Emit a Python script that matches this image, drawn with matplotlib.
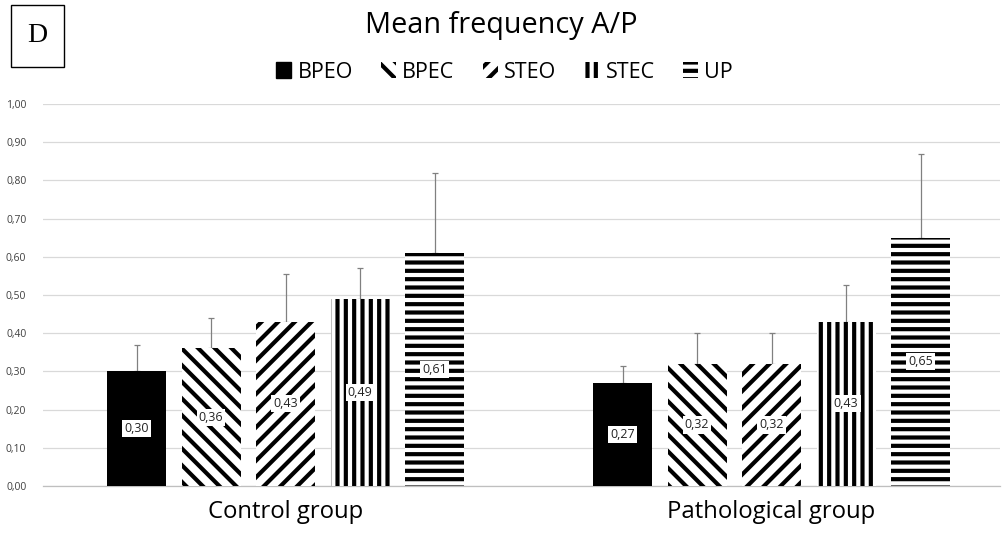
import numpy as np
import matplotlib
matplotlib.use("Agg")
import matplotlib.pyplot as plt
from matplotlib.patches import Rectangle, Patch

plt.rcParams['font.family'] = ['Open Sans', 'DejaVu Sans']
plt.rcParams['hatch.linewidth'] = 3.0

groups = ['Control group', 'Pathological group']
series = ['BPEO', 'BPEC', 'STEO', 'STEC', 'UP']
means = {
    'BPEO': [0.30, 0.27],
    'BPEC': [0.36, 0.32],
    'STEO': [0.43, 0.32],
    'STEC': [0.49, 0.43],
    'UP':   [0.61, 0.65],
}
sds = {
    'BPEO': [0.07, 0.045],
    'BPEC': [0.08, 0.08],
    'STEO': [0.125, 0.08],
    'STEC': [0.08, 0.095],
    'UP':   [0.21, 0.22],
}
hatches = {'BPEO': None, 'BPEC': '\\\\', 'STEO': '//', 'STEC': '||', 'UP': '--'}
yticks = np.arange(0, 1.01, 0.1)

fig = plt.figure(figsize=(10.03, 5.41), dpi=100)
ax = fig.add_axes([43/1003, 55/541, 957/1003, 382/541])

x = np.arange(len(groups))
step = 0.1533
width = 0.1214
for i, s in enumerate(series):
    pos = x + (i - 2) * step
    vals = np.array(means[s])
    if hatches[s] is None:
        ax.bar(pos, vals, width, color='black', zorder=3)
    else:
        ax.bar(pos, vals, width, color='white', edgecolor='black',
               hatch=hatches[s], linewidth=0, zorder=3)
    ax.errorbar(pos, vals, yerr=[np.zeros(len(vals)), sds[s]], fmt='none',
                ecolor='#808080', elinewidth=0.9, capsize=2.5, capthick=0.9, zorder=2)
    for p, v in zip(pos, vals):
        ax.text(p, v / 2, f'{v:.2f}'.replace('.', ','), ha='center', va='center',
                fontsize=9, color='#222222', zorder=5,
                bbox=dict(facecolor='white', edgecolor='none', pad=1.5))

ax.set_xlim(-0.499, 1.470)
ax.set_ylim(0, 1.0)
ax.set_yticks(yticks)
ax.set_yticklabels([f'{t:.2f}'.replace('.', ',') for t in yticks], fontsize=7.5, color='#404040')
ax.set_xticks(x)
ax.set_xticklabels(groups, fontsize=17.2, color='black')
ax.tick_params(axis='both', length=0)
ax.tick_params(axis='x', pad=10)
ax.tick_params(axis='y', pad=12)
ax.grid(axis='y', color='#d9d9d9', linewidth=0.9, zorder=0)
ax.set_axisbelow(True)
for sp in ['top', 'right', 'left']:
    ax.spines[sp].set_visible(False)
ax.spines['bottom'].set_color('#bfbfbf')
ax.spines['bottom'].set_linewidth(0.9)

fig.text(0.5, 1 - 26/541, 'Mean frequency A/P', ha='center', va='center', fontsize=20.8)

handles = []
for s in series:
    if hatches[s] is None:
        handles.append(Patch(facecolor='black', edgecolor='black', label=s))
    else:
        handles.append(Patch(facecolor='white', edgecolor='black', hatch=hatches[s],
                             linewidth=0, label=s))
fig.legend(handles=handles, loc='center', bbox_to_anchor=(0.503, 1 - 72/541), ncol=5,
           frameon=False, fontsize=15.5, handlelength=0.7, handleheight=0.7,
           handletextpad=0.3, columnspacing=1.3)

box = Rectangle((11/1003, 1 - 67/541), 53/1003, 62/541, transform=fig.transFigure,
                facecolor='white', edgecolor='black', linewidth=1)
fig.patches.append(box)
fig.text(37.5/1003, 1 - 36/541, 'D', ha='center', va='center', fontsize=20,
         family='Liberation Serif')

fig.savefig('out.png', dpi=100)
